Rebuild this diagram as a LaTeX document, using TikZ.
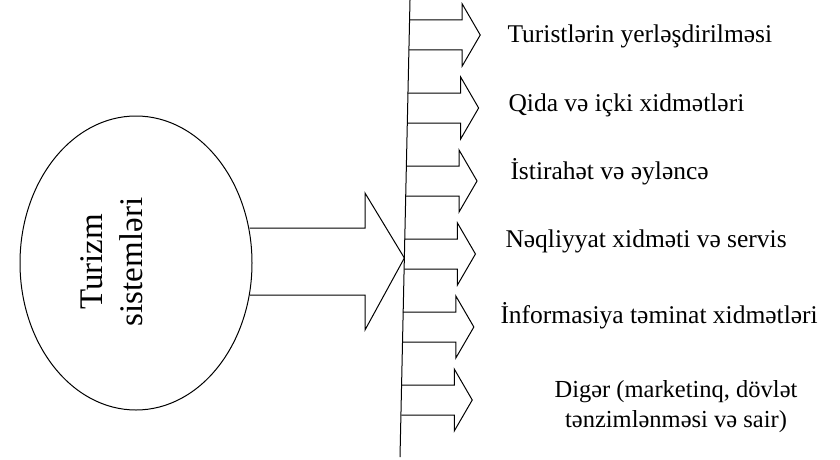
\documentclass[tikz,border=0pt]{standalone}
\usepackage{fontspec}
\setmainfont{Liberation Serif}
\usetikzlibrary{positioning, shapes.geometric, calc}

\begin{document}
\begin{tikzpicture}[x=1pt, y=-1pt, line width=1pt,
    lbl/.style={anchor=base west, inner sep=0pt, font=\fontsize{25.5}{30}\selectfont}]
    \useasboundingbox (0,0) rectangle (840,460);

    % Turizm sistemleri
    \node[draw, ellipse, inner sep=0pt, minimum width=232pt, minimum height=294pt] (sys) at (136,263) {};
    \node[rotate=90, align=center, font=\fontsize{33}{40}\selectfont] (systxt) at (112,262) {Turizm\\sistemləri};

    % vertical bar
    \coordinate (ltop) at (410,0);
    \coordinate (lbot) at (400,457);
    \draw (ltop) -- (lbot);

    % big arrow
    \coordinate (tip) at ($(ltop)!258/457!(lbot)$);
    \draw ($(sys.east)+(-3,-35)$) -- (365,228) -- (365,193) -- (tip)
        -- (365,330) -- (365,295) -- ($(sys.east)+(-3,32)$);

    % small arrows
    \foreach \i in {0,...,5}{
        \pgfmathsetmacro{\ty}{35+73*\i}
        \pgfmathsetmacro{\lx}{410-10*\ty/457}
        \draw (\lx,\ty-15) -- (\lx+53,\ty-15) -- (\lx+53,\ty-31) -- (\lx+71,\ty)
            -- (\lx+53,\ty+31) -- (\lx+53,\ty+15) -- (\lx,\ty+15);
    }

    % labels
    \node[lbl] (acc) at (507,43) {Turistlərin yerləşdirilməsi};
    \node[lbl] (food) at (508,111) {Qida və içki xidmətləri};
    \node[lbl] (rest) at (510,179) {İstirahət və əyləncə};
    \node[lbl] (trans) at (505,247) {Nəqliyyat xidməti və servis};
    \node[lbl] (info) at (500,323) {İnformasiya təminat xidmətləri};
    \node[lbl, anchor=center, align=center, font=\fontsize{24.5}{30}\selectfont] (other) at (676,407) {Digər (marketinq, dövlət\\tənzimlənməsi və sair)};
\end{tikzpicture}
\end{document}
